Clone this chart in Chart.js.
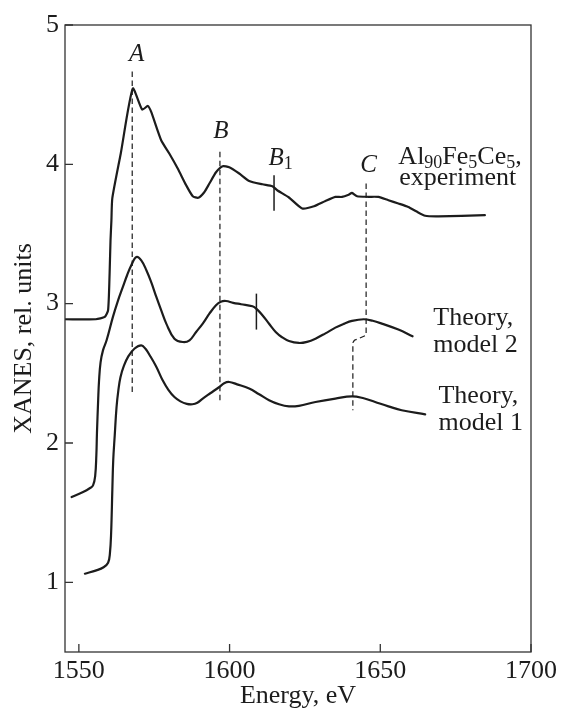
<!DOCTYPE html>
<html>
<head>
<meta charset="utf-8">
<script src="https://cdn.jsdelivr.net/npm/chart.js@4/dist/chart.umd.min.js"></script>
<style>
  html, body { margin: 0; padding: 0; background: #fff; }
  canvas { display: block; }
</style>
</head>
<body>
<canvas id="chart" width="561" height="709"></canvas>
<script>
// Al L-edge XANES of Al90Fe5Ce5: experiment and two theoretical models

const expEnergy = [1545.4, 1555.6, 1558.6, 1559.7, 1560.2, 1560.5, 1560.8, 1561.1, 1563.9, 1567.9,
  1571.0, 1572.9, 1574.0, 1577.3, 1580.0, 1582.8, 1585.6, 1587.8, 1589.6, 1591.6,
  1593.3, 1595.5, 1597.7, 1599.9, 1603.2, 1606.5, 1610.9, 1614.2, 1615.8, 1619.7,
  1624.1, 1628.0, 1631.8, 1635.1, 1637.3, 1639.5, 1640.6, 1642.3, 1646.1, 1649.4,
  1652.7, 1656.0, 1659.3, 1661.9, 1664.9, 1669.3, 1684.7];
const expXanes = [2.888, 2.888, 2.905, 2.953, 3.218, 3.455, 3.599, 3.757, 4.078, 4.544,
  4.393, 4.419, 4.376, 4.173, 4.078, 3.970, 3.850, 3.771, 3.760, 3.800,
  3.862, 3.943, 3.986, 3.979, 3.934, 3.881, 3.857, 3.843, 3.814, 3.762,
  3.683, 3.699, 3.737, 3.766, 3.766, 3.782, 3.795, 3.771, 3.767, 3.766,
  3.742, 3.719, 3.694, 3.663, 3.631, 3.627, 3.635];

const model2Energy = [1547.6, 1551.4, 1553.6, 1554.7, 1555.4, 1555.8, 1556.0, 1556.4, 1556.7, 1557.2,
  1558.0, 1559.2, 1561.3, 1562.9, 1564.6, 1566.0, 1567.4, 1569.1, 1570.7, 1572.4,
  1574.0, 1575.7, 1577.3, 1579.0, 1581.7, 1584.5, 1586.7, 1588.9, 1591.1, 1593.3,
  1595.5, 1597.1, 1598.8, 1601.2, 1603.8, 1607.6, 1609.1, 1610.9, 1613.1, 1615.3,
  1617.4, 1619.7, 1623.0, 1625.7, 1628.5, 1631.8, 1635.1, 1637.9, 1640.6, 1644.5,
  1647.5, 1650.5, 1656.0, 1660.7];
const model2Xanes = [1.612, 1.648, 1.675, 1.696, 1.761, 1.912, 2.070, 2.307, 2.450, 2.579,
  2.665, 2.737, 2.905, 3.017, 3.120, 3.204, 3.276, 3.335, 3.311, 3.240,
  3.154, 3.048, 2.953, 2.857, 2.749, 2.725, 2.737, 2.797, 2.857, 2.928,
  2.989, 3.014, 3.019, 3.006, 2.996, 2.981, 2.959, 2.917, 2.856, 2.797,
  2.759, 2.732, 2.718, 2.726, 2.749, 2.787, 2.828, 2.855, 2.876, 2.888,
  2.877, 2.857, 2.814, 2.766];

const model1Energy = [1552.0, 1555.8, 1558.2, 1559.7, 1560.3, 1560.7, 1561.1, 1561.4, 1561.9, 1562.5,
  1563.1, 1563.8, 1564.9, 1566.4, 1568.5, 1570.7, 1572.1, 1573.5, 1575.6, 1577.8,
  1579.7, 1581.7, 1583.7, 1585.8, 1587.7, 1589.3, 1591.1, 1593.6, 1596.6, 1598.2,
  1599.9, 1602.5, 1606.5, 1609.8, 1613.1, 1616.4, 1619.7, 1623.0, 1628.5, 1635.1,
  1640.6, 1644.5, 1648.3, 1652.7, 1657.1, 1664.9];
const model1Xanes = [1.062, 1.086, 1.108, 1.140, 1.208, 1.352, 1.660, 1.876, 2.055, 2.258,
  2.378, 2.472, 2.551, 2.622, 2.678, 2.701, 2.676, 2.630, 2.551, 2.450,
  2.382, 2.330, 2.299, 2.281, 2.278, 2.289, 2.319, 2.357, 2.402, 2.429,
  2.438, 2.421, 2.391, 2.350, 2.307, 2.278, 2.263, 2.267, 2.294, 2.319,
  2.335, 2.321, 2.294, 2.263, 2.235, 2.206];

// dashed guides through features A, B and C
const guideAEnergy = [1567.7, 1567.7];
const guideAXanes = [2.366, 4.676];
const guideBEnergy = [1596.8, 1596.8];
const guideBXanes = [2.307, 4.09];
const guideCEnergy = [1645.3, 1645.3, 1641.4, 1640.9, 1640.9];
const guideCXanes = [3.862, 2.773, 2.737, 2.72, 2.235];

// short solid bars marking the B1 shoulder
const barB1Energy = [1614.75, 1614.75];
const barB1Xanes = [3.666, 3.922];
const barM2Energy = [1608.9, 1608.9];
const barM2Xanes = [2.814, 3.072];

const xTicks = [1550, 1600, 1650, 1700];
const yTicks = [1, 2, 3, 4, 5];

const SERIF = '"Liberation Serif", "Times New Roman", Times, serif';
const INK = '#1c1c1c';

function pts(xs, ys) { return xs.map((x, i) => ({ x, y: ys[i] })); }

function curve(xs, ys, tension) {
  return { data: pts(xs, ys), borderColor: INK, borderWidth: 2.2, pointRadius: 0,
           tension, fill: false, borderJoinStyle: 'round', borderCapStyle: 'round' };
}
function guide(xs, ys) {
  return { data: pts(xs, ys), borderColor: INK, borderWidth: 1.2, pointRadius: 0,
           borderDash: [5.5, 3.5], tension: 0, fill: false };
}
function bar(xs, ys) {
  return { data: pts(xs, ys), borderColor: INK, borderWidth: 1.5, pointRadius: 0,
           tension: 0, fill: false };
}

// text placed in data coordinates; runs allow subscripts
const notes = [
  { x: 1569.2, y: 4.79, align: 'center', runs: [{ t: 'A', it: true }] },
  { x: 1597.1, y: 4.238, align: 'center', runs: [{ t: 'B', it: true }] },
  { x: 1612.9, y: 4.044, align: 'left', runs: [{ t: 'B', it: true }, { t: '1', sub: true }] },
  { x: 1646.1, y: 3.994, align: 'center', runs: [{ t: 'C', it: true }] },
  { x: 1656.0, y: 4.05, align: 'left', runs: [{ t: 'Al' }, { t: '90', sub: true }, { t: 'Fe' },
      { t: '5', sub: true }, { t: 'Ce' }, { t: '5', sub: true }, { t: ',' }] },
  { x: 1656.3, y: 3.90, align: 'left', runs: [{ t: 'experiment' }] },
  { x: 1667.6, y: 2.895, align: 'left', runs: [{ t: 'Theory,' }] },
  { x: 1667.6, y: 2.70, align: 'left', runs: [{ t: 'model 2' }] },
  { x: 1669.3, y: 2.335, align: 'left', runs: [{ t: 'Theory,' }] },
  { x: 1669.3, y: 2.142, align: 'left', runs: [{ t: 'model 1' }] }
];

function runFont(r) {
  if (r.it) return 'italic 25px ' + SERIF;
  if (r.sub) return '18px ' + SERIF;
  return '26px ' + SERIF;
}

const framePlugin = {
  id: 'frame',
  afterDatasetsDraw(chart) {
    const { ctx, chartArea: a, scales: { x, y } } = chart;
    ctx.save();
    ctx.strokeStyle = '#333';
    ctx.lineWidth = 1.3;
    ctx.strokeRect(a.left, a.top, a.right - a.left, a.bottom - a.top);
    ctx.beginPath();
    yTicks.forEach(v => { const p = y.getPixelForValue(v); ctx.moveTo(a.left, p); ctx.lineTo(a.left + 8, p); });
    xTicks.forEach(v => { const p = x.getPixelForValue(v); ctx.moveTo(p, a.bottom); ctx.lineTo(p, a.bottom - 8); });
    ctx.stroke();

    ctx.fillStyle = INK;
    ctx.textBaseline = 'middle';
    notes.forEach(n => {
      const widths = n.runs.map(r => { ctx.font = runFont(r); return ctx.measureText(r.t).width; });
      const total = widths.reduce((s, w) => s + w, 0);
      let px = x.getPixelForValue(n.x);
      const py = y.getPixelForValue(n.y);
      if (n.align === 'center') px -= total / 2;
      ctx.textAlign = 'left';
      n.runs.forEach((r, i) => {
        ctx.font = runFont(r);
        ctx.fillText(r.t, px, py + (r.sub ? 6 : 0));
        px += widths[i];
      });
    });
    ctx.restore();
  }
};

new Chart(document.getElementById('chart'), {
  type: 'line',
  data: {
    datasets: [
      curve(expEnergy, expXanes, 0.2),
      curve(model2Energy, model2Xanes, 0.4),
      curve(model1Energy, model1Xanes, 0.4),
      guide(guideAEnergy, guideAXanes),
      guide(guideBEnergy, guideBXanes),
      guide(guideCEnergy, guideCXanes),
      bar(barB1Energy, barB1Xanes),
      bar(barM2Energy, barM2Xanes)
    ]
  },
  options: {
    responsive: false,
    animation: false,
    devicePixelRatio: 1,
    layout: { padding: { top: 25, right: 29, left: 0, bottom: 0 } },
    plugins: { legend: { display: false }, tooltip: { enabled: false } },
    scales: {
      x: {
        type: 'linear', min: 1545.4, max: 1700,
        grid: { display: false, drawTicks: false },
        border: { display: false },
        afterFit: s => { s.height = 57; },
        afterBuildTicks: s => { s.ticks = xTicks.map(v => ({ value: v })); },
        ticks: { color: INK, padding: 4, maxRotation: 0, autoSkip: false,
                 callback: v => String(v),
                 font: { family: SERIF, size: 26 } },
        title: { display: true, text: 'Energy, eV', color: INK,
                 font: { family: SERIF, size: 26, lineHeight: 1 },
                 padding: { top: 0, bottom: 0 } }
      },
      y: {
        type: 'linear', min: 0.5, max: 5,
        grid: { display: false, drawTicks: false },
        border: { display: false },
        afterFit: s => { s.width = 65; },
        afterBuildTicks: s => { s.ticks = yTicks.map(v => ({ value: v })); },
        ticks: { color: INK, padding: 6, autoSkip: false,
                 callback: v => String(v),
                 font: { family: SERIF, size: 26 } },
        title: { display: true, text: 'XANES, rel. units', color: INK,
                 font: { family: SERIF, size: 26, lineHeight: 1 },
                 padding: { top: 11, bottom: 0 } }
      }
    }
  },
  plugins: [framePlugin]
});
</script>
</body>
</html>
